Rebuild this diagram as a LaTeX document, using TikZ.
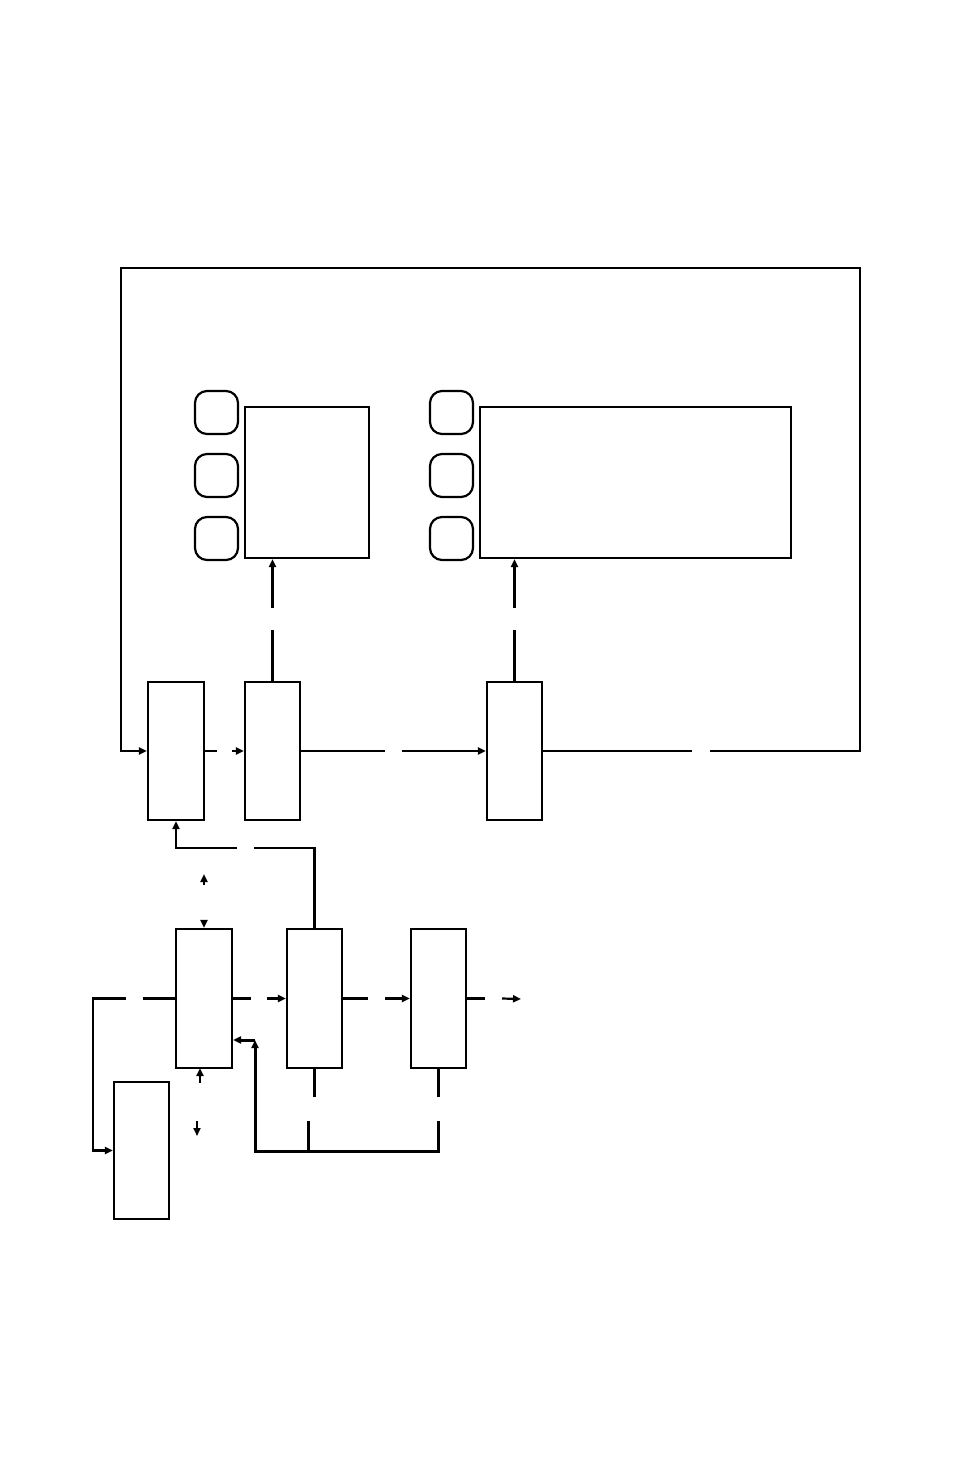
\documentclass[tikz,border=0pt]{standalone}
\usetikzlibrary{arrows.meta,calc}
\begin{document}
\begin{tikzpicture}[x=1pt,y=-1pt,
  line width=2.2pt, line cap=butt, line join=miter,
  >={Triangle[length=8pt,width=7pt]},
  blk/.style={draw,line width=2.2pt,inner sep=0pt,minimum width=55pt},
  tall/.style={blk,minimum height=138pt},
  pill/.style={draw,line width=2.2pt,rounded corners=12pt,minimum width=43pt,minimum height=43pt,inner sep=0pt},
  thick2/.style={line width=3pt}]
\useasboundingbox (0,0) rectangle (954,1474);
% upper row
\node[tall,minimum width=56pt] (A) at (176,751) {};
\node[tall] (B) at (272.5,751) {};
\node[tall] (C) at (514.5,751) {};
% display boxes
\node[blk,minimum width=124pt,minimum height=151pt] (P) at (307,482.5) {};
\node[blk,minimum width=311pt,minimum height=151pt] (Q) at (635.5,482.5) {};
\node[pill] (p1) at (216.5,412.5) {};
\node[pill] (p2) at (216.5,475.5) {};
\node[pill] (p3) at (216.5,538.5) {};
\node[pill] (q1) at (451.5,412.5) {};
\node[pill] (q2) at (451.5,475.5) {};
\node[pill] (q3) at (451.5,538.5) {};
% lower row
\node[tall,minimum width=56pt,minimum height=139pt] (D) at (204,998.5) {};
\node[tall,minimum height=139pt] (E) at (314.5,998.5) {};
\node[tall,minimum height=139pt] (F) at (438.5,998.5) {};
\node[tall,minimum height=137pt] (G) at (141.5,1150.5) {};
% coordinates
\coordinate (frTR) at (860,268);
\coordinate (frTL) at (121,268);
\coordinate (out) at (521,999);
\coordinate (fbL) at (255,1151);
\coordinate (fbJ) at (255,1040);
\coordinate (gL) at (93,998.5);
% upper connectors
\draw (A.east) -- ++(12,0);
\draw[->] ($(B.west)+(-12,0)$) -- (B.west);
\draw (B.east) -- (385,751);
\draw[->] (402,751) -- (C.west);
\draw (C.east) -- (692,751);
\draw[->] (710,751) -- (frTR |- C.east) -- (frTR) -- (frTL) -- (frTL |- A.west) -- (A.west);
\draw (B.north) -- (272.5,630);
\draw[->] (272.5,608) -- (B.north |- P.south);
\draw[thick2] (C.north) -- (514.5,630);
\draw[thick2,->] (514.5,608) -- (C.north |- Q.south);
% E to A
\draw (E.north) -- (314.5,848) -- (254,848);
\draw[->] (237,848) -- (A.south |- 0,848) -- (A.south);
% small arrows above D
\draw[->] (204,885) -- (204,874);
\draw[->] (204,920) -- (D.north);
% left loop to G
\draw (D.west) -- (143,998.5);
\draw[->] (126,998.5) -- (gL) -- (gL |- G.west) -- (G.west);
% lower chain
\draw (D.east) -- (251,998.5);
\draw[->] (267,998.5) -- (E.west);
\draw (E.east) -- (368,998.5);
\draw[->] (385,998.5) -- (F.west);
\draw (F.east) -- (485,998.5);
\draw[->] (502,998.5) -- (out);
% arrows below D
\draw[->] (200,1083) -- (200,1068);
\draw[->] (197,1121) -- (197,1136);
% feedback from E and F
\draw (E.south) -- (314.5,1097);
\draw[thick2] (F.south) -- (438.5,1097);
\draw[thick2] (308,1121) -- (308,1151);
\draw[thick2,->] (438.5,1121) -- (438.5,1151) -- (fbL) -- (fbJ);
\draw[thick2,->] (fbJ) -- (D.east |- fbJ);
\end{tikzpicture}
\end{document}
